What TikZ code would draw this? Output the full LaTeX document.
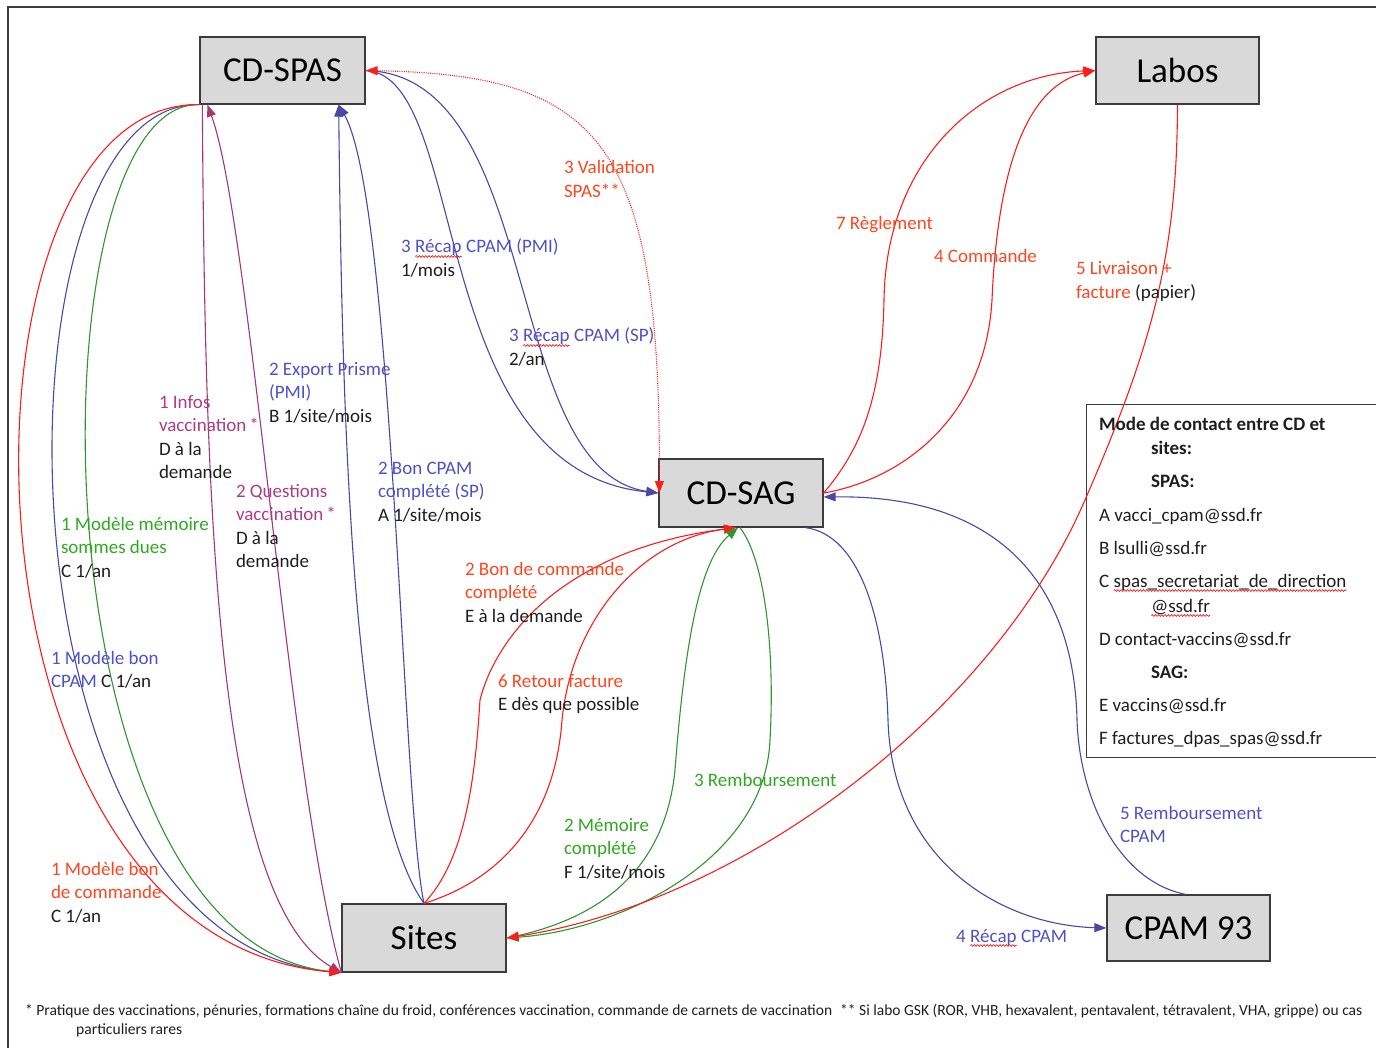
\documentclass[tikz,border=0pt]{standalone}
\usepackage{fontspec}
\usepackage{graphicx}
\setmainfont{Carlito}
\usetikzlibrary{arrows.meta,decorations.pathmorphing}
\definecolor{rl}{RGB}{255,28,28}
\definecolor{bl}{RGB}{72,72,168}
\definecolor{gl}{RGB}{45,150,45}
\definecolor{pl}{RGB}{165,55,115}
\definecolor{rt}{RGB}{255,70,30}
\definecolor{bt}{RGB}{80,80,200}
\definecolor{gt}{RGB}{45,170,30}
\definecolor{pt}{RGB}{175,60,130}
\definecolor{kt}{RGB}{30,30,30}
\definecolor{boxfill}{RGB}{217,217,217}
\definecolor{boxline}{RGB}{60,60,60}
\newcommand\squig[1]{\tikz[baseline=(sq.base)]{\node[inner sep=0pt,outer sep=0pt,anchor=base](sq){#1};\draw[red,line width=0.6pt,decorate,decoration={snake,amplitude=0.9pt,segment length=3.2pt}]([yshift=-3.5pt]sq.base west)--([yshift=-3.5pt]sq.base east);}}
\begin{document}
\begin{tikzpicture}[x=1pt,y=-1pt,
  box/.style={draw=boxline,fill=boxfill,line width=1.3pt,inner sep=0pt,text=black,font=\fontsize{35}{40}\selectfont},
  lbl/.style={anchor=base west,align=left,inner sep=0pt,outer sep=0pt,font=\fontsize{19}{23.5}\selectfont},
  conn/.style={line width=1.1pt},
  tip/.style={-{Triangle[length=12pt,width=9pt]}},
  rline/.style={conn,draw=rl,color=rl},
  bline/.style={conn,draw=bl,color=bl},
  gline/.style={conn,draw=gl,color=gl},
  pline/.style={conn,draw=pl,color=pl},
  dots/.style={dash pattern=on 1pt off 1.2pt},
  frame/.style={draw=boxline,line width=1.5pt}]
\useasboundingbox (0,0) rectangle (1376,1048);
\draw[frame] (1376,7) -- (8,7) -- (8,1048);

% nodes
\node[box,minimum width=165pt,minimum height=67pt] (spas) at (282.5,70.5) {CD-SPAS};
\node[box,minimum width=163pt,minimum height=67pt] (labos) at (1177.5,70.5) {Labos};
\node[box,minimum width=164pt,minimum height=68pt] (sag) at (741,493) {CD-SAG};
\node[box,minimum width=164pt,minimum height=68pt] (sites) at (424,938) {Sites};
\node[box,minimum width=163pt,minimum height=66pt] (cpam) at (1188.5,928) {CPAM 93};
\node[draw=boxline,line width=1.3pt,anchor=north west,minimum width=320pt,minimum height=353pt,inner sep=0pt] (legbox) at (1086,404) {};

% CD-SPAS -> Sites (left bundle)
\draw[bline,tip] (spas.south west) .. controls (-15,100) and (-15,940) .. (sites.south west);
\draw[gline,tip] (spas.south west) .. controls (30,100) and (30,940) .. (sites.south west);
\draw[pline,tip] ([xshift=3pt]spas.south west) .. controls (205,500) and (215,900) .. (sites.south west);
\draw[pline,tip] (sites.south west) .. controls (288,780) and (250,220) .. ([xshift=8pt]spas.south west);
\draw[rline,tip] (spas.south west) .. controls (-60,100) and (-60,940) .. (sites.south west);

% Sites -> CD-SPAS (blue pair)
\draw[bline,tip] (sites.north) .. controls (350,800) and (342,400) .. ([xshift=-27pt]spas.south east);
\draw[bline,tip] (sites.north) .. controls (402,800) and (393,200) .. ([xshift=-27pt]spas.south east);

% CD-SPAS -> CD-SAG
\draw[bline,tip] (spas.east) .. controls (470,75) and (425,470) .. (sag.west);
\draw[bline,tip] (spas.east) .. controls (545,75) and (500,470) .. (sag.west);
\draw[rline,dots,{Triangle[length=12pt,width=9pt]}-{Triangle[length=12pt,width=9pt]}] (spas.east) .. controls (600,75) and (661,140) .. ([xshift=1pt]sag.west);

% Sites -> CD-SAG (red)
\draw[rline,tip] (sites.north) .. controls (465,860) and (475,780) .. (480,700) .. controls (495,640) and (560,550) .. ([xshift=-5pt]sag.south);
\draw[rline,tip] (sites.north) .. controls (500,880) and (555,820) .. (562,720) .. controls (572,620) and (640,540) .. ([xshift=-5pt]sag.south);

% green pair
\draw[gline,tip] ([xshift=-1pt]sag.south) .. controls (765,560) and (775,650) .. (770,740) .. controls (765,860) and (620,930) .. (sites.east);
\draw[gline,tip] (sites.east) .. controls (600,920) and (665,870) .. (675,770) .. controls (685,640) and (700,560) .. ([xshift=-3pt]sag.south);

% Labos -> Sites
\draw[rline,tip] (labos.south) .. controls (1177,260) and (1150,350) .. (1085,500) .. controls (995,708) and (750,900) .. (sites.east);

% CD-SAG -> Labos
\draw[rline,tip] (sag.east) .. controls (860,450) and (882,400) .. (884,300) .. controls (886,160) and (980,75) .. (labos.west);
\draw[rline,tip] (sag.east) .. controls (900,480) and (985,420) .. (992,300) .. controls (998,160) and (1030,85) .. (labos.west);

% CD-SAG <-> CPAM
\draw[bline,tip] ([xshift=-18pt]sag.south east) .. controls (860,535) and (885,620) .. (888,720) .. controls (892,860) and (1000,925) .. (cpam.west);
\draw[bline,tip] ([xshift=-3pt]cpam.north) .. controls (1122,882) and (1080,805) .. (1077,720) .. controls (1074,585) and (1000,495) .. ([yshift=-4pt]sag.east);

% labels (base = baseline of last line)
\node[lbl] (lval) at (564,197.5) {\textcolor{rt}{3 Validation}\\\textcolor{rt}{SPAS**}};
\node[lbl] (lrpmi) at (401,276.5) {\textcolor{bt}{3 \squig{Récap} CPAM (PMI)}\\\textcolor{kt}{1/mois}};
\node[lbl] (lrsp) at (509,365.5) {\textcolor{bt}{3 \squig{Récap} CPAM (SP)}\\\textcolor{kt}{2/an}};
\node[lbl] (lexp) at (269,422) {\textcolor{bt}{2 Export Prisme}\\\textcolor{bt}{(PMI)}\\\textcolor{kt}{B 1/site/mois}};
\node[lbl] (linf) at (159,478.5) {\textcolor{pt}{1 Infos}\\\textcolor{pt}{vaccination\,*}\\\textcolor{kt}{D à la}\\\textcolor{kt}{demande}};
\node[lbl] (lbon) at (378,521) {\textcolor{bt}{2 Bon CPAM}\\\textcolor{bt}{complété (SP)}\\\textcolor{kt}{A 1/site/mois}};
\node[lbl] (lque) at (236,567.5) {\textcolor{pt}{2 Questions}\\\textcolor{pt}{vaccination\,*}\\\textcolor{kt}{D à la}\\\textcolor{kt}{demande}};
\node[lbl] (lmem) at (61,577) {\textcolor{gt}{1 Modèle mémoire}\\\textcolor{gt}{sommes dues}\\\textcolor{kt}{C 1/an}};
\node[lbl] (lmcp) at (51,687.5) {\textcolor{bt}{1 Modèle bon}\\\textcolor{bt}{CPAM}~\textcolor{kt}{C 1/an}};
\node[lbl] (lmcm) at (51,922) {\textcolor{rt}{1 Modèle bon}\\\textcolor{rt}{de commande}\\\textcolor{kt}{C 1/an}};
\node[lbl] (lbcm) at (465,622) {\textcolor{rt}{2 Bon de commande}\\\textcolor{rt}{complété}\\\textcolor{kt}{E à la demande}};
\node[lbl] (lret) at (498,710.5) {\textcolor{rt}{6 Retour facture}\\\textcolor{kt}{E dès que possible}};
\node[lbl] (lrem) at (694,786) {\textcolor{gt}{3 Remboursement}};
\node[lbl] (lmco) at (564,878) {\textcolor{gt}{2 Mémoire}\\\textcolor{gt}{complété}\\\textcolor{kt}{F 1/site/mois}};
\node[lbl] (lrcp) at (956,942) {\textcolor{bt}{4 \squig{Récap} CPAM}};
\node[lbl] (lrmc) at (1120,842.5) {\textcolor{bt}{5 Remboursement}\\\textcolor{bt}{CPAM}};
\node[lbl] (lreg) at (836,230) {\textcolor{rt}{7 Règlement}};
\node[lbl] (lcmd) at (934,263) {\textcolor{rt}{4 Commande}};
\node[lbl] (lliv) at (1076,298.5) {\textcolor{rt}{5 Livraison +}\\\textcolor{rt}{facture}~\textcolor{kt}{(papier)}};

% legend text
\node[lbl,text=kt] (legtxt) at (1099,744) {\textbf{Mode de contact entre CD et}\\
\hspace*{52pt}\textbf{sites:}\\[9.5pt]
\hspace*{52pt}\textbf{SPAS:}\\[10.5pt]
A vacci\_cpam@ssd.fr\\[9.5pt]
B lsulli@ssd.fr\\[9.5pt]
C \squig{spas\_secretariat\_de\_direction}\\[1.5pt]
\hspace*{52pt}\squig{@ssd.fr}\\[9.5pt]
D contact-vaccins@ssd.fr\\[9.5pt]
\hspace*{52pt}\textbf{SAG:}\\[9.5pt]
E vaccins@ssd.fr\\[9.5pt]
F factures\_dpas\_spas@ssd.fr};

% footnotes
\node[anchor=base west,inner sep=0pt,text=kt,font=\fontsize{14}{16}\selectfont] (fn1) at (25,1015) {\resizebox{807pt}{!}{* Pratique des vaccinations, pénuries, formations chaîne du froid, conférences vaccination, commande de carnets de vaccination}};
\node[anchor=base west,inner sep=0pt,text=kt,font=\fontsize{14}{16}\selectfont] (fn2) at (840,1015) {\resizebox{522pt}{!}{** Si labo GSK (ROR, VHB, hexavalent, pentavalent, tétravalent, VHA, grippe) ou cas}};
\node[anchor=base west,inner sep=0pt,text=kt,font=\fontsize{14}{16}\selectfont] (fn3) at (76,1034) {\resizebox{106pt}{!}{particuliers rares}};
\end{tikzpicture}
\end{document}
